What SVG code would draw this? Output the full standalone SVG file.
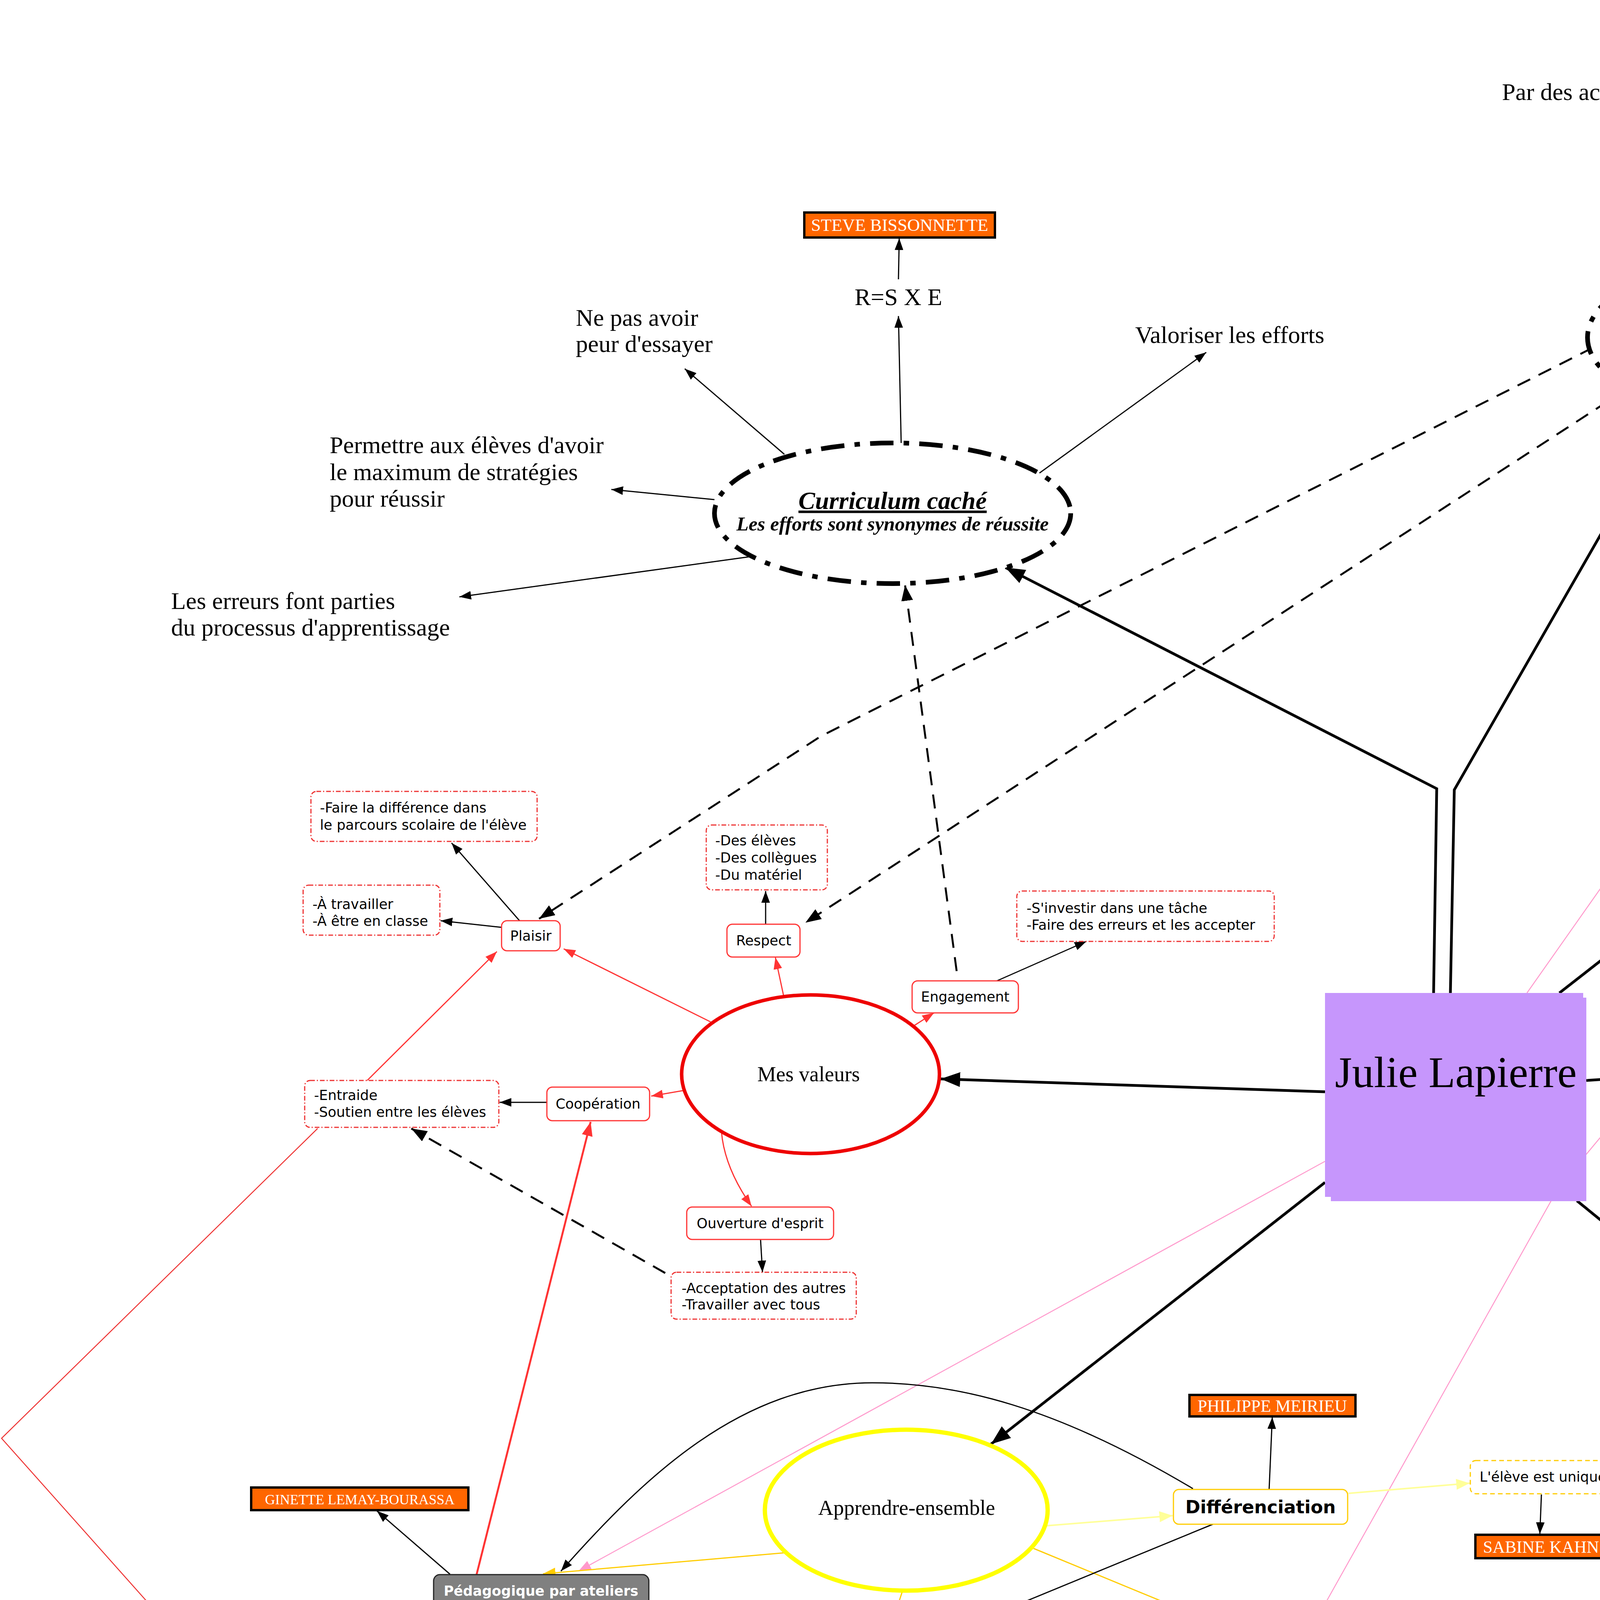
<svg xmlns="http://www.w3.org/2000/svg" width="7937" height="5550" viewBox="0 0 7937 5550">
<defs>
<style>
.t{font-family:"DejaVu Sans",Verdana,sans-serif;font-size:35.5px;fill:#000}
.tb{font-family:"DejaVu Sans",Verdana,sans-serif;font-size:35px;font-weight:bold;fill:#fff}
.sf{font-family:"Liberation Serif","Times New Roman",serif;fill:#000}
.lg{font-size:62px}
.el{font-size:54px}
.nm{font-family:"Liberation Serif","Times New Roman",serif;fill:#fff}
.c{text-anchor:middle}
.ob{fill:#ff6600;stroke:#000;stroke-width:6}
.rb{fill:#fff;stroke:#f33;stroke-width:3}
.rd{fill:#fff;stroke:#e33;stroke-width:3;stroke-dasharray:12 5 3 5}
.pb{fill:#fff;stroke:#fcc;stroke-width:3}
.pd{fill:#fff;stroke:#f9c;stroke-width:3;stroke-dasharray:12 5 3 5}
.bb{fill:#fff;stroke:#36f;stroke-width:3}
.cd{fill:#fff;stroke:#3cf;stroke-width:3;stroke-dasharray:12 8}
.gb{fill:#fff;stroke:#1c1;stroke-width:3}
.gd{fill:#fff;stroke:#396;stroke-width:3;stroke-dasharray:12 8}
.yb{fill:#fff;stroke:#fc0;stroke-width:3}
.yd{fill:#fff;stroke:#fc0;stroke-width:3;stroke-dasharray:12 8}
.gr{fill:#808080;stroke:#222;stroke-width:3}
.cc{fill:#fff;stroke:#000;stroke-width:12;stroke-dasharray:60 26 14 26}
.k3{fill:none;stroke:#000;stroke-width:3;marker-end:url(#ab)}
.k7{fill:none;stroke:#000;stroke-width:7;marker-end:url(#abB)}
.kd{fill:none;stroke:#000;stroke-width:5;stroke-dasharray:36 24;marker-end:url(#abM)}
.r3{fill:none;stroke:#f33;stroke-width:3;marker-end:url(#ar)}
.r5{fill:none;stroke:#f33;stroke-width:5;marker-end:url(#arB)}
.rl{fill:none;stroke:#e33;stroke-width:2.5}
.p2{fill:none;stroke:#f9c;stroke-width:2.5;marker-end:url(#ap)}
.p2n{fill:none;stroke:#f9c;stroke-width:2.5}
.p5{fill:none;stroke:#f9c;stroke-width:6;marker-end:url(#apB)}
.pl{fill:none;stroke:#fcc;stroke-width:3;marker-end:url(#apl)}
.b3{fill:none;stroke:#36f;stroke-width:3;marker-end:url(#abl)}
.cy{fill:none;stroke:#3df;stroke-width:2.5}
.cya{fill:none;stroke:#0cf;stroke-width:2.5;marker-end:url(#acy)}
.cyB{fill:none;stroke:#0ff;stroke-width:8;marker-end:url(#acyB)}
.g3{fill:none;stroke:#1c1;stroke-width:3;marker-end:url(#ag)}
.sg{fill:none;stroke:#396;stroke-width:6;marker-end:url(#asg)}
.y3{fill:none;stroke:#fc0;stroke-width:3;marker-end:url(#agd)}
.y3n{fill:none;stroke:#fc0;stroke-width:3}
.py{fill:none;stroke:#ff9;stroke-width:4;marker-end:url(#apy)}
</style>
<marker id="ab" viewBox="0 0 30 22" refX="30" refY="11" markerWidth="30" markerHeight="22" markerUnits="userSpaceOnUse" orient="auto"><path d="M0,0L30,11L0,22z" fill="#000"/></marker>
<marker id="abM" viewBox="0 0 40 30" refX="40" refY="15" markerWidth="40" markerHeight="30" markerUnits="userSpaceOnUse" orient="auto"><path d="M0,0L40,15L0,30z" fill="#000"/></marker>
<marker id="abB" viewBox="0 0 50 38" refX="50" refY="19" markerWidth="50" markerHeight="38" markerUnits="userSpaceOnUse" orient="auto"><path d="M0,0L50,19L0,38z" fill="#000"/></marker>
<marker id="ar" viewBox="0 0 30 22" refX="30" refY="11" markerWidth="30" markerHeight="22" markerUnits="userSpaceOnUse" orient="auto"><path d="M0,0L30,11L0,22z" fill="#f33"/></marker>
<marker id="arB" viewBox="0 0 36 28" refX="36" refY="14" markerWidth="36" markerHeight="28" markerUnits="userSpaceOnUse" orient="auto"><path d="M0,0L36,14L0,28z" fill="#f33"/></marker>
<marker id="ap" viewBox="0 0 32 24" refX="32" refY="12" markerWidth="32" markerHeight="24" markerUnits="userSpaceOnUse" orient="auto"><path d="M0,0L32,12L0,24z" fill="#f9c"/></marker>
<marker id="apB" viewBox="0 0 40 32" refX="40" refY="16" markerWidth="40" markerHeight="32" markerUnits="userSpaceOnUse" orient="auto"><path d="M0,0L40,16L0,32z" fill="#f9c"/></marker>
<marker id="apl" viewBox="0 0 32 26" refX="32" refY="13" markerWidth="32" markerHeight="26" markerUnits="userSpaceOnUse" orient="auto"><path d="M0,0L32,13L0,26z" fill="#fcc"/></marker>
<marker id="abl" viewBox="0 0 30 22" refX="30" refY="11" markerWidth="30" markerHeight="22" markerUnits="userSpaceOnUse" orient="auto"><path d="M0,0L30,11L0,22z" fill="#36f"/></marker>
<marker id="acy" viewBox="0 0 30 22" refX="30" refY="11" markerWidth="30" markerHeight="22" markerUnits="userSpaceOnUse" orient="auto"><path d="M0,0L30,11L0,22z" fill="#0cf"/></marker>
<marker id="acyB" viewBox="0 0 44 34" refX="44" refY="17" markerWidth="44" markerHeight="34" markerUnits="userSpaceOnUse" orient="auto"><path d="M0,0L44,17L0,34z" fill="#0ff"/></marker>
<marker id="ag" viewBox="0 0 32 24" refX="32" refY="12" markerWidth="32" markerHeight="24" markerUnits="userSpaceOnUse" orient="auto"><path d="M0,0L32,12L0,24z" fill="#1c1"/></marker>
<marker id="asg" viewBox="0 0 40 30" refX="40" refY="15" markerWidth="40" markerHeight="30" markerUnits="userSpaceOnUse" orient="auto"><path d="M0,0L40,15L0,30z" fill="#396"/></marker>
<marker id="agd" viewBox="0 0 32 26" refX="32" refY="13" markerWidth="32" markerHeight="26" markerUnits="userSpaceOnUse" orient="auto"><path d="M0,0L32,13L0,26z" fill="#fc0"/></marker>
<marker id="apy" viewBox="0 0 34 28" refX="34" refY="14" markerWidth="34" markerHeight="28" markerUnits="userSpaceOnUse" orient="auto"><path d="M0,0L34,14L0,28z" fill="#ff9"/></marker>
</defs>
<rect x="0" y="0" width="7937" height="5550" fill="#fff"/>

<g id="connectors">
<polyline class="k7" points="3670,2542 3678,2019 2574,1453"/>
<polyline class="k7" points="3713,2542 3723,2022 4289,1035"/>
<line class="k7" x1="3992" y1="2542" x2="4609" y2="2060"/>
<polyline class="k7" points="4061,2766 5500,2672 6222,2604"/>
<line class="k7" x1="4037" y1="3074" x2="4557" y2="3497"/>
<line class="k7" x1="3392" y1="3027" x2="2537" y2="3697"/>
<line class="k7" x1="3392" y1="2795" x2="2408" y2="2762"/>
<line class="k3" x1="2300" y1="715" x2="2302" y2="610"/>
<line class="k3" x1="2307" y1="1134" x2="2300" y2="809"/>
<line class="k3" x1="2008" y1="1163" x2="1753" y2="944"/>
<line class="k3" x1="1829" y1="1279" x2="1565" y2="1253"/>
<line class="k3" x1="1928" y1="1424" x2="1176" y2="1528"/>
<line class="k3" x1="2661" y1="1211" x2="3088" y2="902"/>
<line class="k3" x1="4402" y1="189" x2="4408" y2="110"/>
<line class="k3" x1="4370" y1="689" x2="4378" y2="299"/>
<line class="k3" x1="4589" y1="729" x2="5258" y2="259"/>
<line class="k3" x1="4696" y1="807" x2="5155" y2="655"/>
<line class="k3" x1="4711" y1="878" x2="5174" y2="861"/>
<line class="k3" x1="4684" y1="931" x2="5319" y2="1056"/>
<polyline class="kd" points="4078,890 2101,1885 1380,2352"/>
<line class="kd" x1="4166" y1="995" x2="2062" y2="2362"/>
<line class="kd" x1="2449" y1="2486" x2="2317" y2="1498"/>
<line class="kd" x1="1703" y1="3259" x2="1053" y2="2889"/>
<polyline class="kd" points="5690,1210 5834,1916 5380,2375"/>
<line class="r3" x1="1819" y1="2616" x2="1443" y2="2429"/>
<line class="r3" x1="2006" y1="2549" x2="1985" y2="2451"/>
<line class="r3" x1="2341" y1="2625" x2="2391" y2="2593"/>
<line class="r3" x1="1748" y1="2792" x2="1667" y2="2806"/>
<path class="r3" d="M1847,2898 Q1855,2990 1924,3088"/>
<line class="r3" x1="940" y1="2766" x2="1272" y2="2436"/>
<line class="r5" x1="1220" y1="4031" x2="1512" y2="2872"/>
<polyline class="rl" points="813,2889 4,3682 1659,5540 3209,4279"/>
<line class="k3" x1="1330" y1="2357" x2="1156" y2="2158"/>
<line class="k3" x1="1284" y1="2374" x2="1128" y2="2357"/>
<line class="k3" x1="1960" y1="2366" x2="1960" y2="2281"/>
<line class="k3" x1="2552" y1="2511" x2="2781" y2="2410"/>
<line class="k3" x1="1400" y1="2822" x2="1279" y2="2822"/>
<line class="k3" x1="1947" y1="3173" x2="1952" y2="3257"/>
<line class="p5" x1="4645" y1="1641" x2="4866" y2="1540"/>
<line class="p2n" x1="3909" y1="2542" x2="4484" y2="1725"/>
<line class="p2" x1="4482" y1="1725" x2="4596" y2="3914"/>
<polyline class="p2" points="5042,1778 3990,3040 3346,4188"/>
<polyline class="p2" points="5262,2182 5807,2164 5438,3507"/>
<line class="p2" x1="3392" y1="2973" x2="1481" y2="4022"/>
<line class="pl" x1="4625" y1="1794" x2="4566" y2="1727"/>
<line class="pl" x1="4948" y1="1810" x2="4999" y2="1779"/>
<line class="pl" x1="5032" y1="1904" x2="5234" y2="1903"/>
<line class="pl" x1="4877" y1="2080" x2="4918" y2="2153"/>
<line class="k3" x1="4504" y1="1641" x2="4503" y2="1562"/>
<line class="k3" x1="5046" y1="1649" x2="5050" y2="1539"/>
<line class="k3" x1="5056" y1="2242" x2="5024" y2="2374"/>
<line class="b3" x1="6650" y1="2355" x2="6650" y2="2286"/>
<line class="b3" x1="7059" y1="2479" x2="7135" y2="2342"/>
<line class="b3" x1="6339" y1="2702" x2="6171" y2="2859"/>
<line class="b3" x1="6739" y1="2760" x2="6697" y2="2944"/>
<line class="b3" x1="7031" y1="2666" x2="7233" y2="2824"/>
<line class="cy" x1="6642" y1="2198" x2="6639" y2="2099"/>
<line class="cya" x1="7174" y1="2263" x2="7267" y2="2028"/>
<line class="cy" x1="6095" y1="2941" x2="6069" y2="3003"/>
<line class="cy" x1="6707" y1="3031" x2="6720" y2="3133"/>
<line class="cy" x1="7360" y1="2905" x2="7494" y2="3012"/>
<line class="k3" x1="7528" y1="3097" x2="7523" y2="3197"/>
<path class="cyB" d="M7419,3097 C7200,3430 6600,3760 5494,3885"/>
<line class="g3" x1="4848" y1="3474" x2="4879" y2="3373"/>
<line class="g3" x1="4900" y1="3291" x2="4900" y2="3232"/>
<line class="g3" x1="5026" y1="3590" x2="5221" y2="3585"/>
<line class="g3" x1="5609" y1="3574" x2="5711" y2="3579"/>
<line class="g3" x1="5009" y1="3717" x2="5254" y2="3880"/>
<line class="g3" x1="5326" y1="3967" x2="5330" y2="4063"/>
<line class="g3" x1="4680" y1="3817" x2="4634" y2="3916"/>
<line class="sg" x1="4455" y1="3702" x2="4140" y2="3820"/>
<line class="k3" x1="4997" y1="3147" x2="4998" y2="3040"/>
<line class="k3" x1="5487" y1="3909" x2="5790" y2="3913"/>
<line class="k3" x1="6529" y1="3940" x2="6703" y2="3934"/>
<line class="k3" x1="3946" y1="3826" x2="3942" y2="3927"/>
<line class="py" x1="2678" y1="3906" x2="3002" y2="3880"/>
<line class="py" x1="3452" y1="3823" x2="3762" y2="3797"/>
<line class="y3" x1="2310" y1="4074" x2="2265" y2="4211"/>
<line class="y3" x1="2646" y1="3964" x2="3209" y2="4196"/>
<line class="y3" x1="2010" y1="3975" x2="1390" y2="4029"/>
<line class="y3n" x1="2187" y1="4297" x2="2184" y2="4404"/>
<line class="y3n" x1="2178" y1="4480" x2="2184" y2="4622"/>
<line class="y3n" x1="3295" y1="4281" x2="3287" y2="4401"/>
<line class="y3n" x1="3289" y1="4478" x2="3292" y2="4625"/>
<line class="y3n" x1="1382" y1="4115" x2="1367" y2="4223"/>
<line class="y3n" x1="1380" y1="4309" x2="1380" y2="4385"/>
<line class="y3n" x1="1378" y1="4465" x2="1376" y2="4573"/>
<line class="k3" x1="3249" y1="3812" x2="3257" y2="3628"/>
<line class="k3" x1="3105" y1="3902" x2="2359" y2="4209"/>
<line class="k3" x1="2313" y1="4297" x2="2583" y2="4416"/>
<line class="k3" x1="2506" y1="4286" x2="3094" y2="4443"/>
<line class="k3" x1="1152" y1="4030" x2="965" y2="3868"/>
<polyline class="k3" points="1205,4419 850,4410 856,4334"/>
<path class="k3" d="M3054,3811 C2700,3600 2450,3540 2233,3540 C1900,3540 1650,3780 1436,4022"/>
<path class="k3" d="M1409,4118 C1600,4500 1950,5064 2331,5064 C2650,5064 2950,4720 3165,4482"/>
</g>

<g id="julie">
<rect x="3407" y="2554" width="654" height="521" fill="#c696fc"/>
<rect x="3392" y="2542" width="661" height="522" fill="#c696fc"/>
<text class="sf c" x="3727" y="2783" font-size="112">Julie Lapierre</text>
</g>

<g id="curriculum1">
<ellipse class="cc" cx="2285" cy="1314" rx="456" ry="180"/>
<text class="sf c" x="2285" y="1303" font-size="64" font-weight="bold" font-style="italic" text-decoration="underline">Curriculum caché</text>
<text class="sf c" x="2285" y="1358" font-size="51" font-weight="bold" font-style="italic">Les efforts sont synonymes de réussite</text>
</g>
<g id="steve"><rect class="ob" x="2059" y="544" width="488" height="64"/><text class="nm c" x="2303" y="591" font-size="45">STEVE BISSONNETTE</text></g>
<g id="rsxe"><text class="sf lg c" x="2300" y="781">R=S X E</text></g>
<g id="nepas"><text class="sf lg" x="1474" y="834">Ne pas avoir</text><text class="sf lg" x="1474" y="901">peur d'essayer</text></g>
<g id="permettre"><text class="sf lg" x="844" y="1160">Permettre aux élèves d'avoir</text><text class="sf lg" x="844" y="1229">le maximum de stratégies</text><text class="sf lg" x="844" y="1297">pour réussir</text></g>
<g id="erreurs"><text class="sf lg" x="438" y="1559">Les erreurs font parties</text><text class="sf lg" x="438" y="1627">du processus d'apprentissage</text></g>
<g id="valoriser"><text class="sf lg" x="2906" y="878">Valoriser les efforts</text></g>

<g id="curriculum2">
<ellipse class="cc" cx="4388" cy="864" rx="324" ry="174"/>
<text class="sf c" x="4385" y="853" font-size="64" font-weight="bold" font-style="italic" text-decoration="underline">Curriculum caché</text>
<text class="sf c" x="4385" y="906" font-size="50" font-weight="bold" font-style="italic">Donner le goût à l'école</text>
</g>
<g id="jeu"><rect x="4194" y="4" width="432" height="104" rx="12" fill="#fff" stroke="#aaa" stroke-width="3" stroke-dasharray="9 7"/><text class="sf c" x="4410" y="72" font-size="54">Jeu, manipulation</text></g>
<g id="activites"><text class="sf lg" x="3845" y="256">Par des activités d'apprentissage différentes</text></g>
<g id="donnant"><text class="sf lg" x="5151" y="97">En donnant une place</text><text class="sf lg" x="5151" y="164">importante à chaque</text><text class="sf lg" x="5151" y="232">élève.</text></g>
<g id="climat"><text class="sf lg" x="5136" y="547">Par un climat de classe</text><text class="sf lg" x="5136" y="615">positif et agréable</text></g>
<g id="projets"><text class="sf lg" x="5197" y="842">Par des projets qui partent</text><text class="sf lg" x="5197" y="908">des intérêts des élèves</text></g>
<g id="ecoute"><text class="sf lg" x="5345" y="1103">En étant à l'écoute et</text><text class="sf lg" x="5345" y="1171">disponible pour les élèves</text></g>

<g id="mesvaleurs"><ellipse cx="2075" cy="2750" rx="330" ry="203" fill="#fff" stroke="#e00" stroke-width="9"/><text class="sf el c" x="2070" y="2768">Mes valeurs</text></g>
<g id="plaisir"><rect class="rb" x="1284" y="2357" width="150" height="77" rx="14"/><text class="t c" x="1359" y="2408">Plaisir</text></g>
<g id="respect"><rect class="rb" x="1861" y="2366" width="187" height="84" rx="14"/><text class="t c" x="1955" y="2420">Respect</text></g>
<g id="engagement"><rect class="rb" x="2335" y="2511" width="272" height="82" rx="14"/><text class="t c" x="2471" y="2564">Engagement</text></g>
<g id="cooperation"><rect class="rb" x="1400" y="2783" width="263" height="86" rx="14"/><text class="t c" x="1531" y="2838">Coopération</text></g>
<g id="ouverture"><rect class="rb" x="1758" y="3090" width="376" height="83" rx="14"/><text class="t c" x="1946" y="3144">Ouverture d'esprit</text></g>
<g id="difference"><rect class="rd" x="796" y="2026" width="579" height="128" rx="14"/><text class="t" x="819" y="2080">-Faire la différence dans</text><text class="t" x="819" y="2124">le parcours scolaire de l'élève</text></g>
<g id="travailler"><rect class="rd" x="776" y="2266" width="350" height="128" rx="14"/><text class="t" x="800" y="2327">-À travailler</text><text class="t" x="800" y="2370">-À être en classe</text></g>
<g id="deseleves"><rect class="rd" x="1808" y="2112" width="310" height="166" rx="14"/><text class="t" x="1831" y="2164">-Des élèves</text><text class="t" x="1831" y="2208">-Des collègues</text><text class="t" x="1831" y="2252">-Du matériel</text></g>
<g id="investir"><rect class="rd" x="2603" y="2281" width="659" height="129" rx="14"/><text class="t" x="2628" y="2337">-S'investir dans une tâche</text><text class="t" x="2628" y="2380">-Faire des erreurs et les accepter</text></g>
<g id="entraide"><rect class="rd" x="780" y="2766" width="497" height="120" rx="14"/><text class="t" x="804" y="2816">-Entraide</text><text class="t" x="804" y="2859">-Soutien entre les élèves</text></g>
<g id="acceptation"><rect class="rd" x="1718" y="3257" width="474" height="120" rx="14"/><text class="t" x="1745" y="3310">-Acceptation des autres</text><text class="t" x="1745" y="3352">-Travailler avec tous</text></g>

<g id="meshabiletes"><ellipse cx="4774" cy="1932" rx="260" ry="160" fill="#fff" stroke="#fcc" stroke-width="9"/><text class="sf el c" x="4774" y="1950">Mes habiletés</text></g>
<g id="organisation"><rect class="pb" x="4382" y="1641" width="276" height="81" rx="14"/><text class="t c" x="4520" y="1691">Organisation</text></g>
<g id="planification"><rect class="pb" x="4965" y="1649" width="267" height="127" rx="14"/><text class="t c" x="5098" y="1701">Planification</text><text class="t c" x="5098" y="1745">(innovation)</text></g>
<g id="energique"><rect class="pb" x="5237" y="1856" width="226" height="91" rx="14"/><text class="t c" x="5350" y="1916">Énergique</text></g>
<g id="relation"><rect class="pb" x="4631" y="2155" width="631" height="86" rx="14"/><text class="t c" x="4946" y="2209">Relation positive avec les élèves</text></g>
<g id="delaclasse"><rect class="pd" x="4360" y="1397" width="279" height="163" rx="14"/><text class="t" x="4383" y="1450">-De la classe</text><text class="t" x="4383" y="1493">-De l'horaire</text><text class="t" x="4383" y="1535">-Du matériel</text></g>
<g id="activitesdiff"><rect class="pd" x="4842" y="1365" width="423" height="172" rx="14"/><text class="t" x="4866" y="1418">-Activités différentes</text><text class="t" x="4866" y="1461">-Jeux</text><text class="t" x="4866" y="1505">-Manipulation</text></g>
<g id="lien"><rect class="pd" x="4604" y="2375" width="816" height="77" rx="14"/><text class="t" x="4628" y="2429">-Avoir un lien de confiance avec les élèves</text></g>

<g id="attentes"><ellipse cx="6653" cy="2559" rx="438" ry="201" fill="#fff" stroke="#00f" stroke-width="11"/><text class="sf el c" x="6653" y="2578">Les attentes de l'environnement</text></g>
<g id="collegues"><rect class="bb" x="6540" y="2198" width="219" height="85" rx="14"/><text class="t c" x="6650" y="2252">Collègues</text></g>
<g id="parents"><rect class="bb" x="7073" y="2263" width="181" height="75" rx="14"/><text class="t c" x="7163" y="2314">Parents</text></g>
<g id="meesecoles"><rect class="bb" x="5955" y="2861" width="320" height="79" rx="14"/><text class="t c" x="6115" y="2914">MEES et écoles</text></g>
<g id="eleves"><rect class="bb" x="6603" y="2945" width="160" height="85" rx="14"/><text class="t c" x="6683" y="3003">Élèves</text></g>
<g id="societe"><rect class="bb" x="7206" y="2826" width="177" height="77" rx="14"/><text class="t c" x="7295" y="2877">Société</text></g>
<g id="collaboration"><rect class="cd" x="6428" y="1891" width="410" height="208" rx="14"/><text class="t" x="6451" y="1941">-Collaboration ;</text><text class="t" x="6451" y="1985">-Partage des idées ;</text><text class="t" x="6451" y="2028">-Écoute et soutien ;</text><text class="t" x="6451" y="2071">-Entraide.</text></g>
<g id="collaborateur"><rect class="cd" x="7062" y="1862" width="489" height="164" rx="14"/><text class="t" x="7085" y="1912">-Collaborateur;</text><text class="t" x="7085" y="1957">-Ressources externes;</text><text class="t" x="7085" y="2001">- Bonne communication.</text></g>
<g id="pfeq"><rect class="cd" x="5637" y="3003" width="761" height="213" rx="14"/><text class="t" x="5660" y="3053">-Le PFEQ ;</text><text class="t" x="5660" y="3097">-Les 12 compétences professionnelles ;</text><text class="t" x="5660" y="3140">-Intégrité ;</text><text class="t" x="5660" y="3184">-Respect des règles de vie.</text></g>
<g id="encouragements"><rect class="cd" x="6484" y="3130" width="492" height="175" rx="14"/><text class="t" x="6510" y="3185">-Encouragements;</text><text class="t" x="6510" y="3228">-Confiance ;</text><text class="t" x="6510" y="3271">-Climat positif en classe.</text></g>
<g id="former"><rect class="cd" x="7167" y="3012" width="757" height="83" rx="14"/><text class="t c" x="7545" y="3063">Former de futurs citoyens responsables</text></g>
<g id="mees"><rect class="ob" x="7435" y="3197" width="168" height="67"/><text class="nm c" x="7519" y="3248" font-size="50">MEES</text></g>

<g id="vivre"><ellipse cx="4737" cy="3641" rx="298" ry="174" fill="#fff" stroke="#070" stroke-width="10"/><text class="sf el c" x="4737" y="3660">Vivre-ensemble</text></g>
<g id="democratie"><rect class="gb" x="4767" y="3293" width="256" height="78" rx="14"/><text class="t c" x="4895" y="3347">Démocratie</text></g>
<g id="conseil"><rect class="gd" x="4669" y="3147" width="458" height="83" rx="14"/><text class="t c" x="4898" y="3200">Conseil de coopération</text></g>
<g id="freinet"><rect class="ob" x="4779" y="2966" width="437" height="72"/><text class="nm c" x="4997" y="3017" font-size="42">CÉLESTIN FREINET</text></g>
<g id="renforcer"><rect class="gb" x="5223" y="3516" width="383" height="125" rx="14"/><text class="t c" x="5415" y="3567">Renforcer les bons</text><text class="t c" x="5415" y="3610">comportements</text></g>
<g id="recompense"><rect class="gd" x="5713" y="3516" width="279" height="130" rx="14"/><text class="t c" x="5852" y="3573">récompense</text><text class="t c" x="5852" y="3616">de groupes</text></g>
<g id="orgclasse"><rect class="gb" x="4351" y="3918" width="496" height="121" rx="14"/><text class="t c" x="4599" y="3968">Organisation de la classe</text><text class="t c" x="4599" y="4012">efficace</text></g>
<g id="responsabilite"><rect class="gb" x="5180" y="3882" width="307" height="83" rx="14"/><text class="t c" x="5334" y="3934">Responsabilité</text></g>
<g id="eleveresp"><rect class="gd" x="4929" y="4065" width="819" height="166" rx="14"/><text class="t c" x="5338" y="4118">L'élève doit devenir responsable</text><text class="t c" x="5338" y="4162">de ses apprentissages, ses gestes, de son</text><text class="t c" x="5338" y="4205">envrionnement</text></g>
<g id="favorise"><rect class="gd" x="5792" y="3852" width="737" height="122" rx="14"/><text class="t" x="5814" y="3903">Favorise le sentiment d'appartenance</text><text class="t" x="5814" y="3947">à la classe</text></g>
<g id="isabelle"><rect class="ob" x="6705" y="3864" width="621" height="122"/><text class="nm" x="6724" y="3913" font-size="44">ISABELLE ARCHAMBEAULT</text><text class="nm" x="6724" y="3970" font-size="44">ÉLIZABETH OLIVIER</text></g>
<g id="unique"><rect class="yd" x="3764" y="3739" width="372" height="85" rx="14"/><text class="t c" x="3950" y="3793">L'élève est unique</text></g>
<g id="kahn"><rect class="ob" x="3777" y="3929" width="336" height="60"/><text class="nm c" x="3945" y="3975" font-size="44">SABINE KAHN</text></g>

<g id="apprendre"><ellipse cx="2320" cy="3866" rx="362" ry="206" fill="#fff" stroke="#ff0" stroke-width="11"/><text class="sf el c" x="2321" y="3878">Apprendre-ensemble</text></g>
<g id="differenciation"><rect class="yb" x="3004" y="3813" width="446" height="89" rx="14" stroke-width="4"/><text x="3227" y="3874" text-anchor="middle" font-family="DejaVu Sans, Verdana, sans-serif" font-size="46" font-weight="bold">Différenciation</text></g>
<g id="meirieu"><rect class="ob" x="3045" y="3571" width="425" height="55"/><text class="nm c" x="3257" y="3614" font-size="44">PHILIPPE MEIRIEU</text></g>
<g id="pedprojets"><rect class="gr" x="1963" y="4211" width="543" height="85" rx="16"/><text class="tb c" x="2234" y="4265">Pédagogique par projets</text></g>
<g id="jeuapp"><rect class="gr" x="3080" y="4197" width="464" height="82" rx="16"/><text class="tb c" x="3312" y="4249">Apprendre par le jeu</text></g>
<g id="collab"><rect class="yb" x="1972" y="4404" width="417" height="76" rx="14"/><text class="t c" x="2180" y="4455">Pour la collaboration</text></g>
<g id="perrenoud"><rect class="ob" x="2435" y="4416" width="444" height="58"/><text class="nm c" x="2657" y="4459" font-size="38">PHILIPPE PERRENOUD</text></g>
<g id="partir"><rect class="yb" x="1900" y="4622" width="571" height="78" rx="14"/><text class="t c" x="2185" y="4674">Partir des intérêts des élèves</text></g>
<g id="motivation"><rect class="yb" x="3096" y="4401" width="377" height="76" rx="14"/><text class="t c" x="3284" y="4451">Pour la motivation</text></g>
<g id="action"><rect class="yb" x="3097" y="4625" width="392" height="77" rx="14"/><text class="t c" x="3293" y="4676">Pour être en action</text></g>
<g id="ateliers"><rect class="gr" x="1110" y="4031" width="551" height="84" rx="16"/><text class="tb c" x="1385" y="4085">Pédagogique par ateliers</text></g>
<g id="ginette"><rect class="ob" x="643" y="3808" width="556" height="58"/><text class="nm c" x="921" y="3851" font-size="36">GINETTE LEMAY-BOURASSA</text></g>
<g id="nadon"><rect class="ob" x="696" y="4267" width="327" height="64"/><text class="nm c" x="860" y="4316" font-size="44">YVES NADON</text></g>
<g id="pourcoop"><rect class="yb" x="1162" y="4223" width="399" height="84" rx="14"/><text class="t c" x="1361" y="4277">Pour la coopération</text></g>
<g id="atelierecriture"><rect class="yb" x="1205" y="4385" width="349" height="79" rx="14"/><text class="t c" x="1379" y="4437">Atelier d'écriture</text></g>
<g id="rythme"><rect class="yb" x="1119" y="4573" width="515" height="127" rx="14"/><text class="t c" x="1376" y="4627">Pour que les élèves</text><text class="t c" x="1376" y="4672">apprennent à leur rythme</text></g>
</svg>
